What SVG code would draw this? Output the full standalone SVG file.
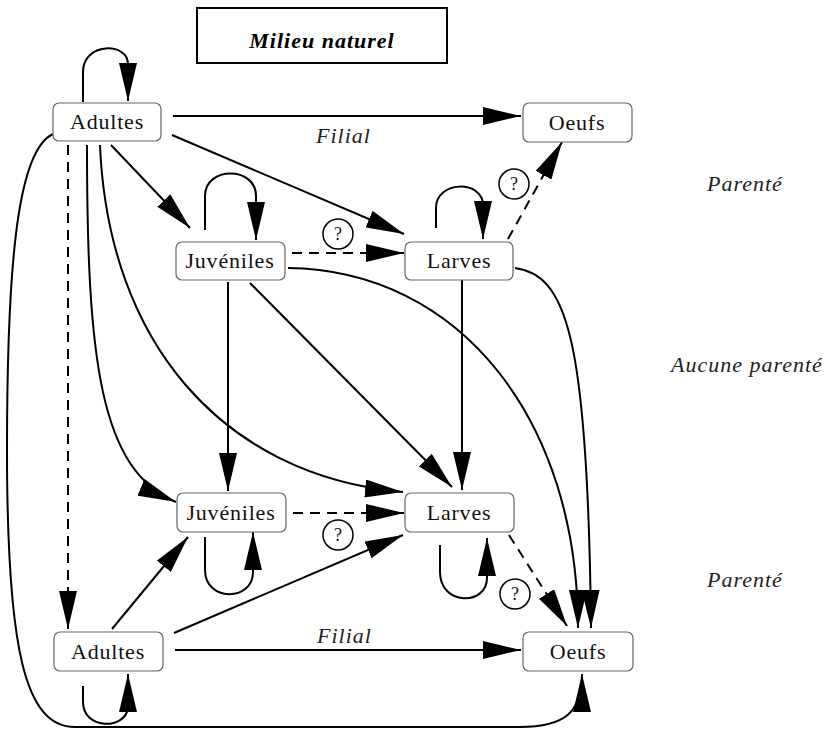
<svg xmlns="http://www.w3.org/2000/svg" width="831" height="730" viewBox="0 0 831 730" font-family="Liberation Serif, DejaVu Serif, serif">
<style>
.n rect{fill:#fff;stroke:#666;stroke-width:1.2}
.n text,.q text{font-size:22px;letter-spacing:0.8px;text-anchor:middle;fill:#111}
.lbl{font-size:22px;font-style:italic;letter-spacing:1px;fill:#222}
.ttl{font-size:22px;font-weight:bold;font-style:italic;letter-spacing:1px;text-anchor:middle}
.c path{fill:none;stroke:#000;stroke-width:2;marker-end:url(#ah)}
.c path.d{stroke-dasharray:10,7}
.q circle{fill:#fff;stroke:#000;stroke-width:1.5}
.q text{font-size:18px;letter-spacing:0}
</style>
<defs>
<marker id="ah" markerUnits="userSpaceOnUse" markerWidth="38" markerHeight="18" viewBox="0 0 38 18" refX="38" refY="9" orient="auto">
<path d="M0,0 L38,9 L0,18 z" fill="#000"/>
</marker>
</defs>
<rect x="0" y="0" width="831" height="730" fill="#fff"/>
<g id="title">
<rect x="197" y="8" width="250" height="55" fill="#fff" stroke="#000" stroke-width="2"/>
<text class="ttl" x="322" y="48" font-family="Liberation Serif">Milieu naturel</text>
</g>
<g id="connectors" class="c">
<path d="M83,102 V72 C83,42 128,42 128,64 L128,101"/>
<path d="M173,116 H521"/>
<path d="M172,135 L404,234"/>
<path d="M111,145 L190,228"/>
<path class="d" d="M68,145 V629"/>
<path d="M87,145 C87,360 100,470 176,502"/>
<path d="M100,145 C108,340 220,475 403,492"/>
<path d="M53,134 C18,150 7,260 7,450 C7,650 25,727 75,727 L520,727 C565,727 582,712 582,674"/>
<path d="M83,686 V702 C83,730 125,730 128,708 L128,674"/>
<path d="M175,650 H521"/>
<path d="M112,629 L188,537"/>
<path d="M174,633 L403,535"/>
<path d="M205,230 V196 C205,166 256,166 256,196 L256,240"/>
<path class="d" d="M292,253 H404"/>
<path d="M228,282 V491"/>
<path d="M250,283 L452,487"/>
<path d="M288,268 C460,270 578,420 578,628"/>
<path d="M436,228 V208 C436,180 483,180 483,205 L483,239"/>
<path class="d" d="M508,239 L562,142"/>
<path d="M462,280 V490"/>
<path d="M515,268 C565,275 588,330 591,628"/>
<path class="d" d="M293,513 H404"/>
<path d="M205,537 V570 C205,602 253,602 253,572 L253,532"/>
<path d="M440,545 V572 C440,606 487,606 487,578 L487,538"/>
<path class="d" d="M509,535 L567,626"/>
</g>
<g id="q1" class="q"><circle cx="338" cy="234" r="15"/><text x="338" y="240">?</text></g>
<g id="q2" class="q"><circle cx="514" cy="184" r="15"/><text x="514" y="190">?</text></g>
<g id="q3" class="q"><circle cx="338" cy="535" r="15"/><text x="338" y="541">?</text></g>
<g id="q4" class="q"><circle cx="515" cy="594" r="15"/><text x="515" y="600">?</text></g>
<g id="adultes1" class="n"><rect x="53" y="103" width="108" height="38" rx="6"/><text x="107" y="129">Adultes</text></g>
<g id="oeufs1" class="n"><rect x="523" y="103" width="109" height="39" rx="6"/><text x="577" y="130">Oeufs</text></g>
<g id="juveniles1" class="n"><rect x="176" y="242" width="109" height="38" rx="6"/><text x="230" y="268">Juvéniles</text></g>
<g id="larves1" class="n"><rect x="405" y="242" width="108" height="38" rx="6"/><text x="459" y="268">Larves</text></g>
<g id="juveniles2" class="n"><rect x="177" y="493" width="109" height="39" rx="6"/><text x="231" y="520">Juvéniles</text></g>
<g id="larves2" class="n"><rect x="405" y="493" width="109" height="39" rx="6"/><text x="459" y="520">Larves</text></g>
<g id="adultes2" class="n"><rect x="54" y="632" width="109" height="39" rx="6"/><text x="108" y="659">Adultes</text></g>
<g id="oeufs2" class="n"><rect x="523" y="632" width="110" height="39" rx="6"/><text x="578" y="659">Oeufs</text></g>
<g id="labels">
<text class="lbl" x="316" y="143">Filial</text>
<text class="lbl" x="317" y="643">Filial</text>
<text class="lbl" x="707" y="191">Parenté</text>
<text class="lbl" x="671" y="372">Aucune parenté</text>
<text class="lbl" x="707" y="587">Parenté</text>
</g>
</svg>
